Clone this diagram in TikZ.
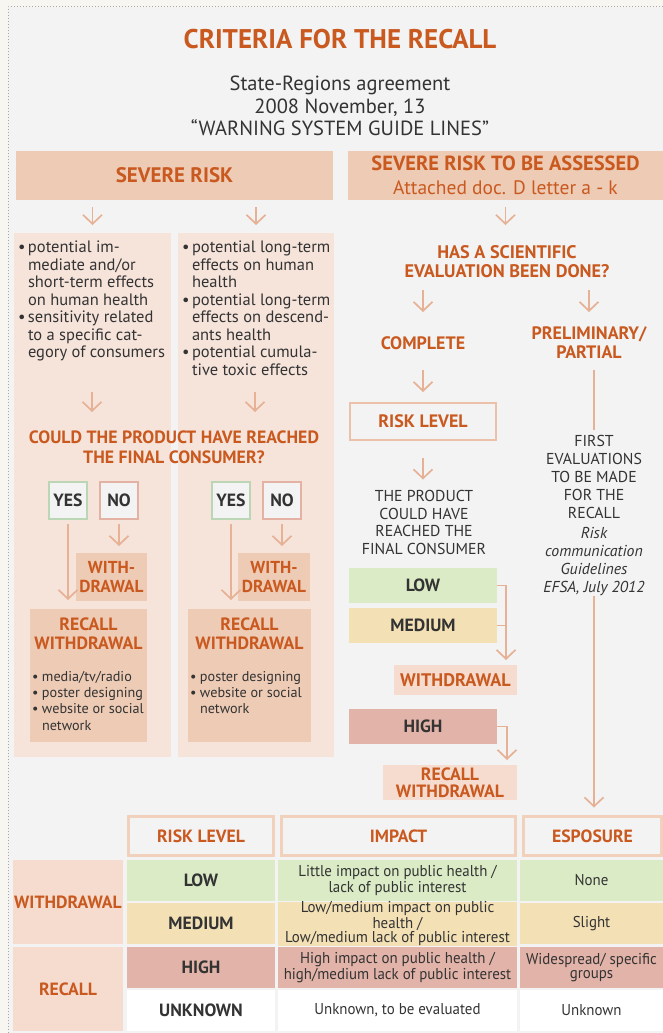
\documentclass[tikz,border=0pt]{standalone}
\usepackage{fontspec}
\setmainfont{PT Sans}
\newfontfamily\hdfont{PT Sans}
\newfontfamily\cfont{PT Sans}[FakeStretch=0.95]
\newfontfamily\bodyfont{PT Sans}
\usetikzlibrary{arrows.meta}
\definecolor{bgc}{HTML}{F3F3F3}
\definecolor{outc}{HTML}{F8F6F1}
\definecolor{dotc}{HTML}{A8A8A8}
\definecolor{orc}{HTML}{C9591F}
\definecolor{hdrc}{HTML}{EDCBB5}
\definecolor{colc}{HTML}{F6E4DB}
\definecolor{lbox}{HTML}{F5DCCF}
\definecolor{arrc}{HTML}{E6B195}
\definecolor{yesc}{HTML}{BAD6B4}
\definecolor{noc}{HTML}{E4B2A4}
\definecolor{lowc}{HTML}{DAEBC5}
\definecolor{medc}{HTML}{F3E1B5}
\definecolor{highc}{HTML}{E2B3A8}
\definecolor{txtc}{HTML}{333333}
\definecolor{thc}{HTML}{F1D0BC}
\newcommand\myfs[2]{\fontsize{#1}{#2}\selectfont}
\newcommand\bu{\makebox[10pt][l]{\textbullet}}
\newcommand\ii{\hspace*{10pt}}
\begin{document}
\begin{tikzpicture}[x=1pt,y=-1pt,
  every node/.style={inner sep=0pt, outer sep=0pt, text=txtc},
  hd/.style={font=\hdfont\bfseries\myfs{#1}{\dimexpr #1pt*21/20\relax}, text=orc, align=center},
  arr/.style={draw=arrc, line width=1.7pt, -{Straight Barb[length=9pt,width=19pt,line width=1.7pt]}},
  ln/.style={draw=arrc, line width=1.7pt},
  bl/.style={font=\hdfont\bfseries\myfs{17.7}{19}},
  yn/.style={draw=#1, line width=2pt, fill=bgc, minimum width=38, minimum height=37, bl},
  th/.style={draw=thc, line width=3pt, fill=bgc, minimum height=39, bl, text=orc},
  cell/.style={fill=#1, minimum height=41, align=center, font=\cfont\myfs{15.7}{13}},
]
\useasboundingbox (0,0) rectangle (663,1033);
\fill[outc] (0,0) rectangle (663,1033);
\fill[bgc] (8,7) rectangle (663,1033);
\draw[dotc, dotted, line width=1pt] (8,1033) -- (8,7) -- (663,7);

% title
\node[hd=27] (title) at (340,39) {CRITERIA FOR THE RECALL};
\node[font=\bodyfont\myfs{20.5}{22.5}, align=center] (sub) at (340,106) {State-Regions agreement\\2008 November, 13\\“WARNING SYSTEM GUIDE LINES”};

% headers
\node[fill=hdrc, minimum width=317, minimum height=49, hd=21] (sev) at (174.5,175.5) {SEVERE RISK};
\node[fill=hdrc, minimum width=315, minimum height=49, align=center, text=orc, font=\myfs{20.5}{24}] (sevA) at (505.5,175.5) {{\hdfont\bfseries SEVERE RISK TO BE ASSESSED}\\{\bodyfont\fontsize{19.5}{24}\selectfont Attached doc. D letter a - k}};

% left columns
\node[fill=colc, minimum width=157, minimum height=524] (col1) at (92.5,495) {};
\node[fill=colc, minimum width=156, minimum height=524] (col2) at (256,495) {};

\node[anchor=north west, align=left, font=\bodyfont\myfs{16.5}{17.5}] (b1) at (18,241)
 {\bu potential im-\\\ii mediate and/or\\\ii short-term effects\\\ii on human health\\\bu sensitivity related\\\ii to a specific cat-\\\ii egory of consumers};
\node[anchor=north west, align=left, font=\bodyfont\myfs{16.5}{17.5}] (b2) at (182,241)
 {\bu potential long-term\\\ii effects on human\\\ii health\\\bu potential long-term\\\ii effects on descend-\\\ii ants health\\\bu potential cumula-\\\ii tive toxic effects};

\node[hd=17.8, minimum height=44, font=\hdfont\bfseries\myfs{17.8}{20}] (q) at (174,447) {COULD THE PRODUCT HAVE REACHED\\THE FINAL CONSUMER?};
\coordinate (a1) at (92,392);
\coordinate (a2) at (255,392);

\node[yn=yesc] (yes1) at (68,500.5) {YES};
\node[yn=noc] (no1) at (119,500.5) {NO};
\node[yn=yesc] (yes2) at (231,500.5) {YES};
\node[yn=noc] (no2) at (282,500.5) {NO};

\node[fill=hdrc, minimum width=71, minimum height=48, hd=17.3] (wd1) at (111.5,577) {WITH-\\DRAWAL};
\node[fill=hdrc, minimum width=72, minimum height=48, hd=17.3] (wd2) at (274,577) {WITH-\\DRAWAL};

\node[fill=hdrc, minimum width=117, minimum height=133] (rw1) at (88.5,675.5) {};
\node[fill=hdrc, minimum width=123, minimum height=133] (rw2) at (249.5,675.5) {};
\node[hd=17.8] (rw1t) at (88.5,634) {RECALL\\WITHDRAWAL};
\node[hd=17.8] (rw2t) at (249.5,634) {RECALL\\WITHDRAWAL};
\node[anchor=north west, align=left, font=\bodyfont\myfs{14.2}{16.3}] (rw1b) at (32,671)
 {\bu media/tv/radio\\\bu poster designing\\\bu website or social\\\ii network};
\node[anchor=north west, align=left, font=\bodyfont\myfs{14.2}{16.3}] (rw2b) at (190,671)
 {\bu poster designing\\\bu website or social\\\ii network};

% right side
\node[hd=18.2, minimum height=40] (hq) at (507,262) {HAS A SCIENTIFIC\\EVALUATION BEEN DONE?};
\node[hd=18, minimum height=30] (complete) at (423,343) {COMPLETE};
\node[hd=18, minimum height=40] (prelim) at (589,343) {PRELIMINARY/\\PARTIAL};
\node[draw=arrc!80, line width=2pt, minimum width=146, minimum height=37, hd=18] (rl) at (423,421.5) {RISK LEVEL};
\node[font=\bodyfont\myfs{15.8}{17.7}, align=center, minimum height=73] (prod) at (424,522.5) {THE PRODUCT\\COULD HAVE\\REACHED THE\\FINAL CONSUMER};
\node[font=\bodyfont\myfs{15.8}{18}, align=center, minimum height=161] (first) at (594,515.5) {FIRST\\EVALUATIONS\\TO BE MADE\\FOR THE\\RECALL\\[2pt]{\itshape Risk}\\{\itshape communication}\\{\itshape Guidelines}\\{\itshape EFSA, July 2012}};

\node[fill=lowc, minimum width=148, minimum height=35, bl] (low) at (423,585.5) {LOW};
\node[fill=medc, minimum width=148, minimum height=35, bl] (med) at (423,625.5) {MEDIUM};
\node[fill=lbox, minimum width=123, minimum height=30, hd=18.2] (wdr) at (455.5,680) {WITHDRAWAL};
\node[fill=highc, minimum width=148, minimum height=35, bl] (high) at (423,726.5) {HIGH};
\node[fill=lbox, minimum width=134, minimum height=35, hd=17.8, font=\hdfont\bfseries\myfs{17.8}{17}] (rwr) at (450,782.5) {RECALL\\WITHDRAWAL};
\coordinate (br1) at ([xshift=-11pt]wdr.north east);
\coordinate (br2) at ([xshift=-10pt]rwr.north east);

% table
\node[th, minimum width=145] (thrl) at (201,836) {RISK LEVEL};
\node[th, minimum width=234] (thim) at (398.5,836) {IMPACT};
\node[th, minimum width=138] (thes) at (592.5,836) {ESPOSURE};

\node[fill=lbox, minimum width=110, minimum height=84, bl, text=orc] (lw) at (68,902) {WITHDRAWAL};
\node[fill=lbox, minimum width=110, minimum height=84, bl, text=orc] (lr) at (68,989) {RECALL};

\node[cell=lowc, minimum width=148, bl] (c11) at (201,880.5) {LOW};
\node[cell=lowc, minimum width=239] (c12) at (397.5,880.5) {Little impact on public health /\\lack of public interest};
\node[cell=lowc, minimum width=143] (c13) at (591.5,880.5) {None};
\node[cell=medc, minimum width=148, bl] (c21) at (201,923.5) {MEDIUM};
\node[cell=medc, minimum width=239] (c22) at (397.5,923.5) {Low/medium impact on public\\health /\\Low/medium lack of public interest};
\node[cell=medc, minimum width=143] (c23) at (591.5,923.5) {Slight};
\node[cell=highc, minimum width=148, bl] (c31) at (201,967.5) {HIGH};
\node[cell=highc, minimum width=239] (c32) at (397.5,967.5) {High impact on public health /\\high/medium lack of public interest};
\node[cell=highc, minimum width=143, font=\cfont\myfs{15.7}{14}] (c33) at (591.5,967.5) {Widespread/ specific\\groups};
\node[cell=white, minimum width=148, bl] (c41) at (201,1010.5) {UNKNOWN};
\node[cell=white, minimum width=239] (c42) at (397.5,1010.5) {Unknown, to be evaluated};
\node[cell=white, minimum width=143] (c43) at (591.5,1010.5) {Unknown};

% connectors
\draw[arr, shorten <=7pt, shorten >=8pt] (sev.south -| col1.north) -- (col1.north);
\draw[arr, shorten <=7pt, shorten >=8pt] (sev.south -| col2.north) -- (col2.north);
\draw[arr, shorten <=7pt, shorten >=17pt] (sevA.south) -- (hq.north -| sevA.south);
\draw[arr, shorten >=13pt] (a1) -- (q.north -| a1);
\draw[arr, shorten >=13pt] (a2) -- (q.north -| a2);
\draw[arr, shorten <=5pt, shorten >=9pt] (yes1.south) -- (rw1.north -| yes1.south);
\draw[arr, shorten <=5pt, shorten >=7pt] (no1.south) -- (wd1.north -| no1.south);
\draw[arr, shorten <=5pt, shorten >=9pt] (yes2.south) -- (rw2.north -| yes2.south);
\draw[arr, shorten <=5pt, shorten >=7pt] (no2.south) -- (wd2.north -| no2.south);
\draw[arr, shorten <=8pt, shorten >=16pt] (hq.south -| complete.north) -- (complete.north);
\draw[arr, shorten <=8pt, shorten >=11pt] (hq.south -| prelim.north) -- (prelim.north);
\draw[arr, shorten <=12pt, shorten >=11pt] (complete.south) -- (rl.north);
\draw[arr, shorten <=18pt, shorten >=6.5pt] (rl.south) -- (prod.north -| rl.south);
\draw[ln, shorten <=7pt, shorten >=5.5pt] (first.north |- prelim.south) -- (first.north);
\draw[arr, shorten >=9pt] (first.south) -- (thes.north -| first.south);
\draw[arr, shorten >=5pt] (low.east) -| (br1);
\draw[ln] (med.east) -- (med.east -| br1);
\draw[arr, shorten >=5pt] (high.east) -| (br2);
\end{tikzpicture}
\end{document}
